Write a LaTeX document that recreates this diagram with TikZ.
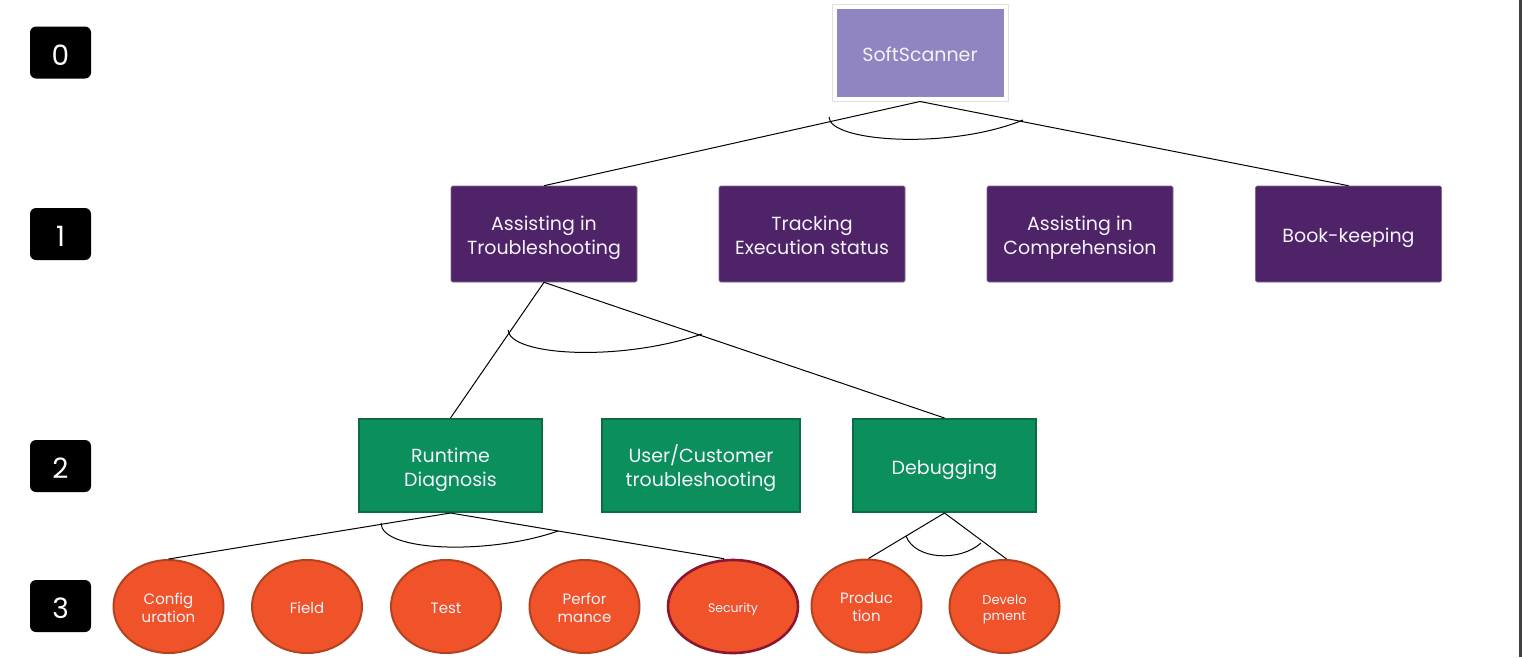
\documentclass[tikz,border=0pt]{standalone}
\usepackage{fontspec}
\setmainfont{Poppins}
\usetikzlibrary{shapes.geometric,shadows}
\definecolor{topc}{HTML}{9085C0}
\definecolor{purp}{HTML}{4F2367}
\definecolor{grn}{HTML}{0B8F5C}
\definecolor{grnb}{HTML}{0A6B44}
\definecolor{ora}{HTML}{F0532A}
\definecolor{orab}{HTML}{B3421F}
\definecolor{marb}{HTML}{8C1630}
\definecolor{txt}{HTML}{F4F2FA}
\newcommand{\sta}{\vrule height 1.22em depth 0pt width 0pt\relax}
\newcommand{\stb}{\vrule height 0pt depth 0.3em width 0pt\relax}
\tikzset{
  lvl/.style={fill=black, rounded corners=6pt, minimum width=61pt, minimum height=52pt, text=white, font=\fontsize{28}{34}\selectfont, inner sep=0pt},
  toptask/.style={fill=topc, draw=white, line width=4pt, minimum width=171pt, minimum height=92pt, text=txt, font=\fontsize{19}{24}\selectfont, preaction={draw=black!12, line width=6pt}, drop shadow={shadow xshift=1pt, shadow yshift=-2pt, opacity=0.3}},
  purpbox/.style={fill=purp, draw=purp!70!white, line width=0.6pt, rounded corners=1.5pt, minimum width=186pt, minimum height=96pt, text=txt, align=center, font=\fontsize{19}{23.5}\selectfont, inner sep=0pt},
  grnbox/.style={fill=grn, draw=grnb, line width=2pt, minimum width=183pt, minimum height=93pt, text=txt, align=center, font=\fontsize{19}{23.5}\selectfont, inner sep=0pt},
  leaf/.style={ellipse, fill=ora, draw=orab, line width=2pt, minimum width=110pt, minimum height=93pt, text=txt, align=center, font=\fontsize{15}{18}\selectfont, inner sep=0pt},
  conn/.style={draw=black, line width=1pt},
  andarc/.style={draw=black, line width=1pt}
}
\begin{document}
\begin{tikzpicture}[x=1pt,y=-1pt]
\useasboundingbox (0,0) rectangle (1522,657);
\fill[white] (0,0) rectangle (1522,657);
\fill[black!75] (1518.5,0) rectangle (1521.5,657);

% level labels
\node[lvl] (l0) at (60.5,52.5) {0\sta\stb};
\node[lvl] (l1) at (60.5,234) {1\sta\stb};
\node[lvl] (l2) at (60.5,466) {2\sta\stb};
\node[lvl] (l3) at (60.5,606) {3\sta\stb};

% level 0
\node[toptask] (root) at (920,52.5) {SoftScanner\sta\stb};

% level 1
\node[purpbox] (trb) at (544,234) {Assisting in\sta\\Troubleshooting\stb};
\node[purpbox] (trk) at (812,234) {Tracking\sta\\Execution status\stb};
\node[purpbox] (cmp) at (1080,234) {Assisting in\sta\\Comprehension\stb};
\node[purpbox] (bk) at (1348.5,234) {Book-keeping\sta\stb};

% level 2
\node[grnbox] (rtd) at (450.5,465.5) {Runtime\sta\\Diagnosis\stb};
\node[grnbox, minimum width=198pt] (usr) at (701,465.5) {User/Customer\sta\\troubleshooting\stb};
\node[grnbox] (dbg) at (944.5,465.5) {Debugging\sta\stb};

% level 3
\node[leaf] (cfg) at (168.5,606.5) {Config\sta\\uration\stb};
\node[leaf] (fld) at (307,606.5) {Field\sta\stb};
\node[leaf] (tst) at (446,606.5) {Test\sta\stb};
\node[leaf] (prf) at (584.5,606.5) {Perfor\sta\\mance\stb};
\node[leaf, draw=marb, line width=2.6pt, minimum width=130pt, font=\fontsize{12.5}{15}\selectfont] (sec) at (733,606.5) {Security\sta\stb};
\node[leaf] (prd) at (866.5,606) {Produc\sta\\tion\stb};
\node[leaf, font=\fontsize{13}{15.5}\selectfont] (dev) at (1004.5,606.5) {Develo\sta\\pment\stb};

% connectors
\draw[conn] ([yshift=-1pt]root.south) -- (trb.north);
\draw[conn] ([yshift=-1pt]root.south) -- (bk.north);
\draw[andarc] (829,117) .. controls (829,142) and (950,150) .. (1023,120);

\draw[conn] (trb.south) -- (rtd.north);
\draw[conn] (trb.south) -- (dbg.north);
\draw[andarc] (508,330) .. controls (510,356) and (620,362) .. (702,334);

\draw[conn] (rtd.south) -- (cfg.north);
\draw[conn] (rtd.south) -- ([xshift=-9pt]sec.north);
\draw[andarc] (381,523) .. controls (381,552) and (490,555) .. (558,531);

\draw[conn] (dbg.south) -- ([xshift=2pt]prd.north);
\draw[conn] (dbg.south) -- ([xshift=2pt]dev.north);
\draw[andarc] (906,536) .. controls (915,560) and (960,562) .. (981,543);
\end{tikzpicture}
\end{document}
